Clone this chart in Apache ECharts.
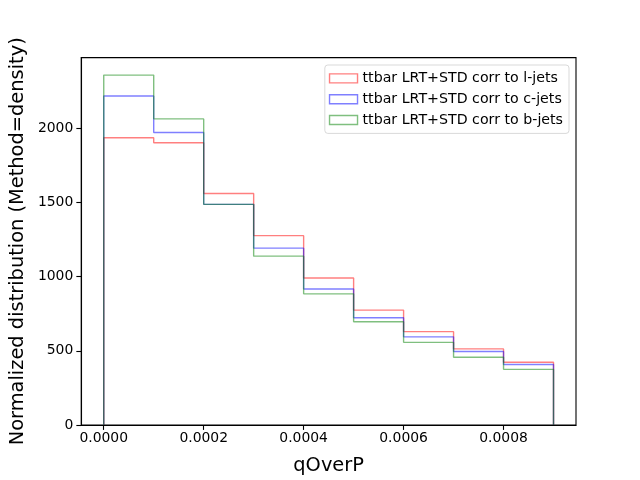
<!DOCTYPE html>
<html>
<head>
<meta charset="utf-8">
<script src="https://cdn.jsdelivr.net/npm/echarts@6/dist/echarts.min.js"></script>
<style>
  html, body { margin: 0; padding: 0; background: #fff; }
  #chart { width: 640px; height: 480px; }
</style>
</head>
<body>
<div id="chart"></div>
<script>
// bin edges of qOverP (10 edges, 9 bins)
const binEdges = [0, 0.0001, 0.0002, 0.0003, 0.0004, 0.0005, 0.0006, 0.0007, 0.0008, 0.0009];
// density per bin
const lJets = [1936, 1902, 1560, 1276, 991, 774, 629, 513, 423];
const cJets = [2217, 1971, 1487, 1192, 917, 723, 594, 495, 408];
const bJets = [2358, 2063, 1487, 1138, 884, 696, 557, 457, 375];
const seriesNames = [
  "ttbar LRT+STD corr to l-jets",
  "ttbar LRT+STD corr to c-jets",
  "ttbar LRT+STD corr to b-jets",
];
const xTicks = [0, 0.0002, 0.0004, 0.0006, 0.0008];
const yTicks = [0, 500, 1000, 1500, 2000];

const colors = ["rgba(255,0,0,0.5)", "rgba(0,0,255,0.5)", "rgba(0,128,0,0.5)"];

// outline of a step histogram: up at first edge, across each bin, down at last edge
const stepPath = (vals) => {
  let pts = [[binEdges[0], 0]];
  vals.forEach((v, i) => {
    pts.push([binEdges[i], v]);
    pts.push([binEdges[i + 1], v]);
  });
  pts.push([binEdges[binEdges.length - 1], 0]);
  return pts;
};

const chart = echarts.init(document.getElementById("chart"), null, { renderer: "canvas" });
const font = "DejaVu Sans";

const option = {
  animation: false,
  backgroundColor: "#fff",
  textStyle: { fontFamily: font },
  grid: {
    left: 80, right: 64, top: 57.6, bottom: 52.8,
    show: true, borderColor: "#000", borderWidth: 1.1, backgroundColor: "transparent",
  },
  legend: {
    right: 71, top: 65,
    orient: "vertical",
    itemWidth: 28, itemHeight: 9, itemGap: 4,
    padding: [5, 6, 5, 4],
    borderColor: "#d9d9d9", borderWidth: 1, borderRadius: 3,
    backgroundColor: "rgba(255,255,255,0.8)",
    textStyle: { fontFamily: font, fontSize: 14.2, color: "#000", lineHeight: 16.8 },
    data: seriesNames.map((n, i) => ({
      name: n,
      icon: "rect",
      itemStyle: { color: "transparent", borderColor: colors[i], borderWidth: 1.4 },
    })),
  },
  xAxis: {
    type: "value",
    min: -0.000045, max: 0.000945,
    name: "qOverP", nameLocation: "middle", nameGap: 31,
    nameTextStyle: { fontFamily: font, fontSize: 19.4, color: "#000" },
    axisLine: { onZero: false, lineStyle: { color: "#000", width: 1.1 } },
    axisTick: { show: true, length: 4.9, lineStyle: { color: "#000", width: 1.1 }, customValues: xTicks },
    axisLabel: {
      fontFamily: font, fontSize: 13.9, color: "#000", margin: 6,
      customValues: xTicks,
      formatter: (v) => v.toFixed(4),
    },
    splitLine: { show: false },
  },
  yAxis: {
    type: "value",
    min: 0, max: 2476,
    name: "Normalized distribution (Method=density)", nameLocation: "middle", nameGap: 53,
    nameTextStyle: { fontFamily: font, fontSize: 19.4, color: "#000" },
    axisLine: { show: true, onZero: false, lineStyle: { color: "#000", width: 1.1 } },
    axisTick: { show: true, length: 4.9, lineStyle: { color: "#000", width: 1.1 }, customValues: yTicks },
    axisLabel: {
      fontFamily: font, fontSize: 13.9, color: "#000", margin: 8,
      customValues: yTicks,
      formatter: (v) => String(v),
    },
    splitLine: { show: false },
  },
  series: [lJets, cJets, bJets].map((vals, i) => ({
    name: seriesNames[i],
    type: "line",
    data: stepPath(vals),
    showSymbol: false,
    symbol: "none",
    color: colors[i],
    lineStyle: { color: colors[i], width: 1.4 },
    emphasis: { disabled: true },
  })),
};

chart.setOption(option);
</script>
</body>
</html>
